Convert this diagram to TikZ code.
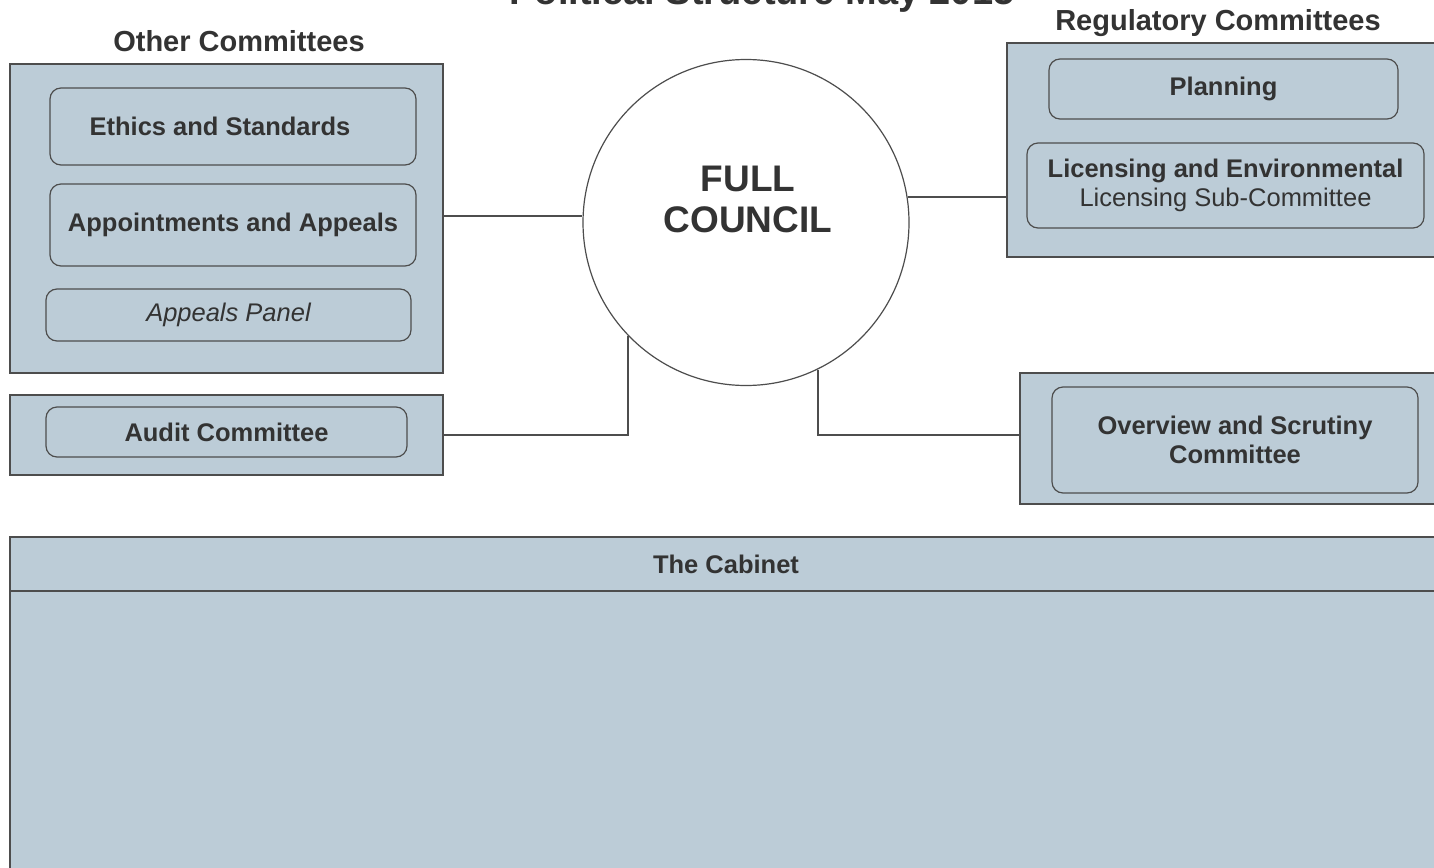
\documentclass[tikz,border=0pt]{standalone}
\usepackage{fontspec}
\setmainfont{Liberation Sans}
\definecolor{panel}{HTML}{BCCCD7}
\definecolor{ink}{HTML}{333333}
\definecolor{edge}{HTML}{4D4D4D}
\newcommand\itemfont{\fontsize{25.5}{29}\selectfont\bfseries}
\newcommand\headfont{\fontsize{29}{33}\selectfont\bfseries}
\newcommand\councilfont{\fontsize{37}{41}\selectfont\bfseries}
\newcommand\titlefont{\fontsize{38}{42}\selectfont\bfseries}
\begin{document}
\begin{tikzpicture}[x=1pt,y=-1pt,
  every node/.style={text=ink},
  panelbox/.style={rectangle, draw=edge, line width=1.5pt, fill=panel, inner sep=0pt},
  itembox/.style={rectangle, draw=edge, line width=1.2pt, rounded corners=11pt,
    inner sep=0pt, align=center, font=\itemfont},
  heading/.style={font=\headfont, inner sep=0pt},
  link/.style={draw=edge, line width=2pt}]
\useasboundingbox (0,0) rectangle (1434,867);
\clip (0,0) rectangle (1434,867);

% page title, running off the top edge
\node[font=\titlefont, anchor=base, inner sep=0pt] (title) at (762,5) {Political Structure May 2015};

% other committees
\node[heading] (othertitle) at (239,41) {Other Committees};
\node[panelbox, minimum width=433pt, minimum height=309pt] (other) at (226.5,218.5) {};
\node[itembox, minimum width=366pt, minimum height=77pt] (ethics) at (233,126.5) {Ethics and Standards\hspace*{26pt}};
\node[itembox, minimum width=366pt, minimum height=82pt] (appoint) at (233,225) {Appointments and Appeals};
\node[itembox, minimum width=365pt, minimum height=52pt, font=\fontsize{25.5}{29}\selectfont\itshape] (appeals) at (228.5,315) {Appeals Panel};

% audit
\node[panelbox, minimum width=433pt, minimum height=80pt] (audit) at (226.5,435) {};
\node[itembox, minimum width=361pt, minimum height=50pt] (auditin) at (226.5,432) {Audit Committee};

% full council
\node[circle, draw=edge, line width=1.2pt, fill=white, minimum size=326pt, inner sep=0pt] (council) at (746,222.5) {};
\node[font=\councilfont, align=center, inner sep=0pt] (councillabel) at (748,199.5) {FULL\\COUNCIL};

% regulatory committees
\node[heading] (regtitle) at (1218,23) {Regulatory Committees};
\node[panelbox, minimum width=453pt, minimum height=214pt] (reg) at (1233.5,150) {};
\node[itembox, minimum width=349pt, minimum height=60pt] (planning) at (1223.5,89) {\raisebox{5pt}{Planning}};
\node[itembox, minimum width=397pt, minimum height=85pt] (licensing) at (1225.5,185.5)
  {Licensing and Environmental\\{\mdseries Licensing Sub-Committee}};

% overview and scrutiny
\node[panelbox, minimum width=440pt, minimum height=131pt] (overview) at (1240,438.5) {};
\node[itembox, minimum width=366pt, minimum height=106pt] (overin) at (1235,440) {Overview and Scrutiny\\Committee};

% cabinet
\node[panelbox, minimum width=1432pt, minimum height=54pt, font=\itemfont] (cabhead) at (726,564) {The Cabinet};
\node[panelbox, minimum width=1432pt, minimum height=309pt] (cabbody) at (726,745.5) {};

% connectors
\draw[link] ([yshift=2.5pt]other.east) -- ([yshift=2.5pt]other.east -| council.west);
\draw[link] (audit.east) -| (council.224.6);
\draw[link] (council.9.7) -- (council.9.7 -| reg.west);
\draw[link] (council.296.8) |- ([yshift=3.5pt]overview.west);
\end{tikzpicture}
\end{document}
